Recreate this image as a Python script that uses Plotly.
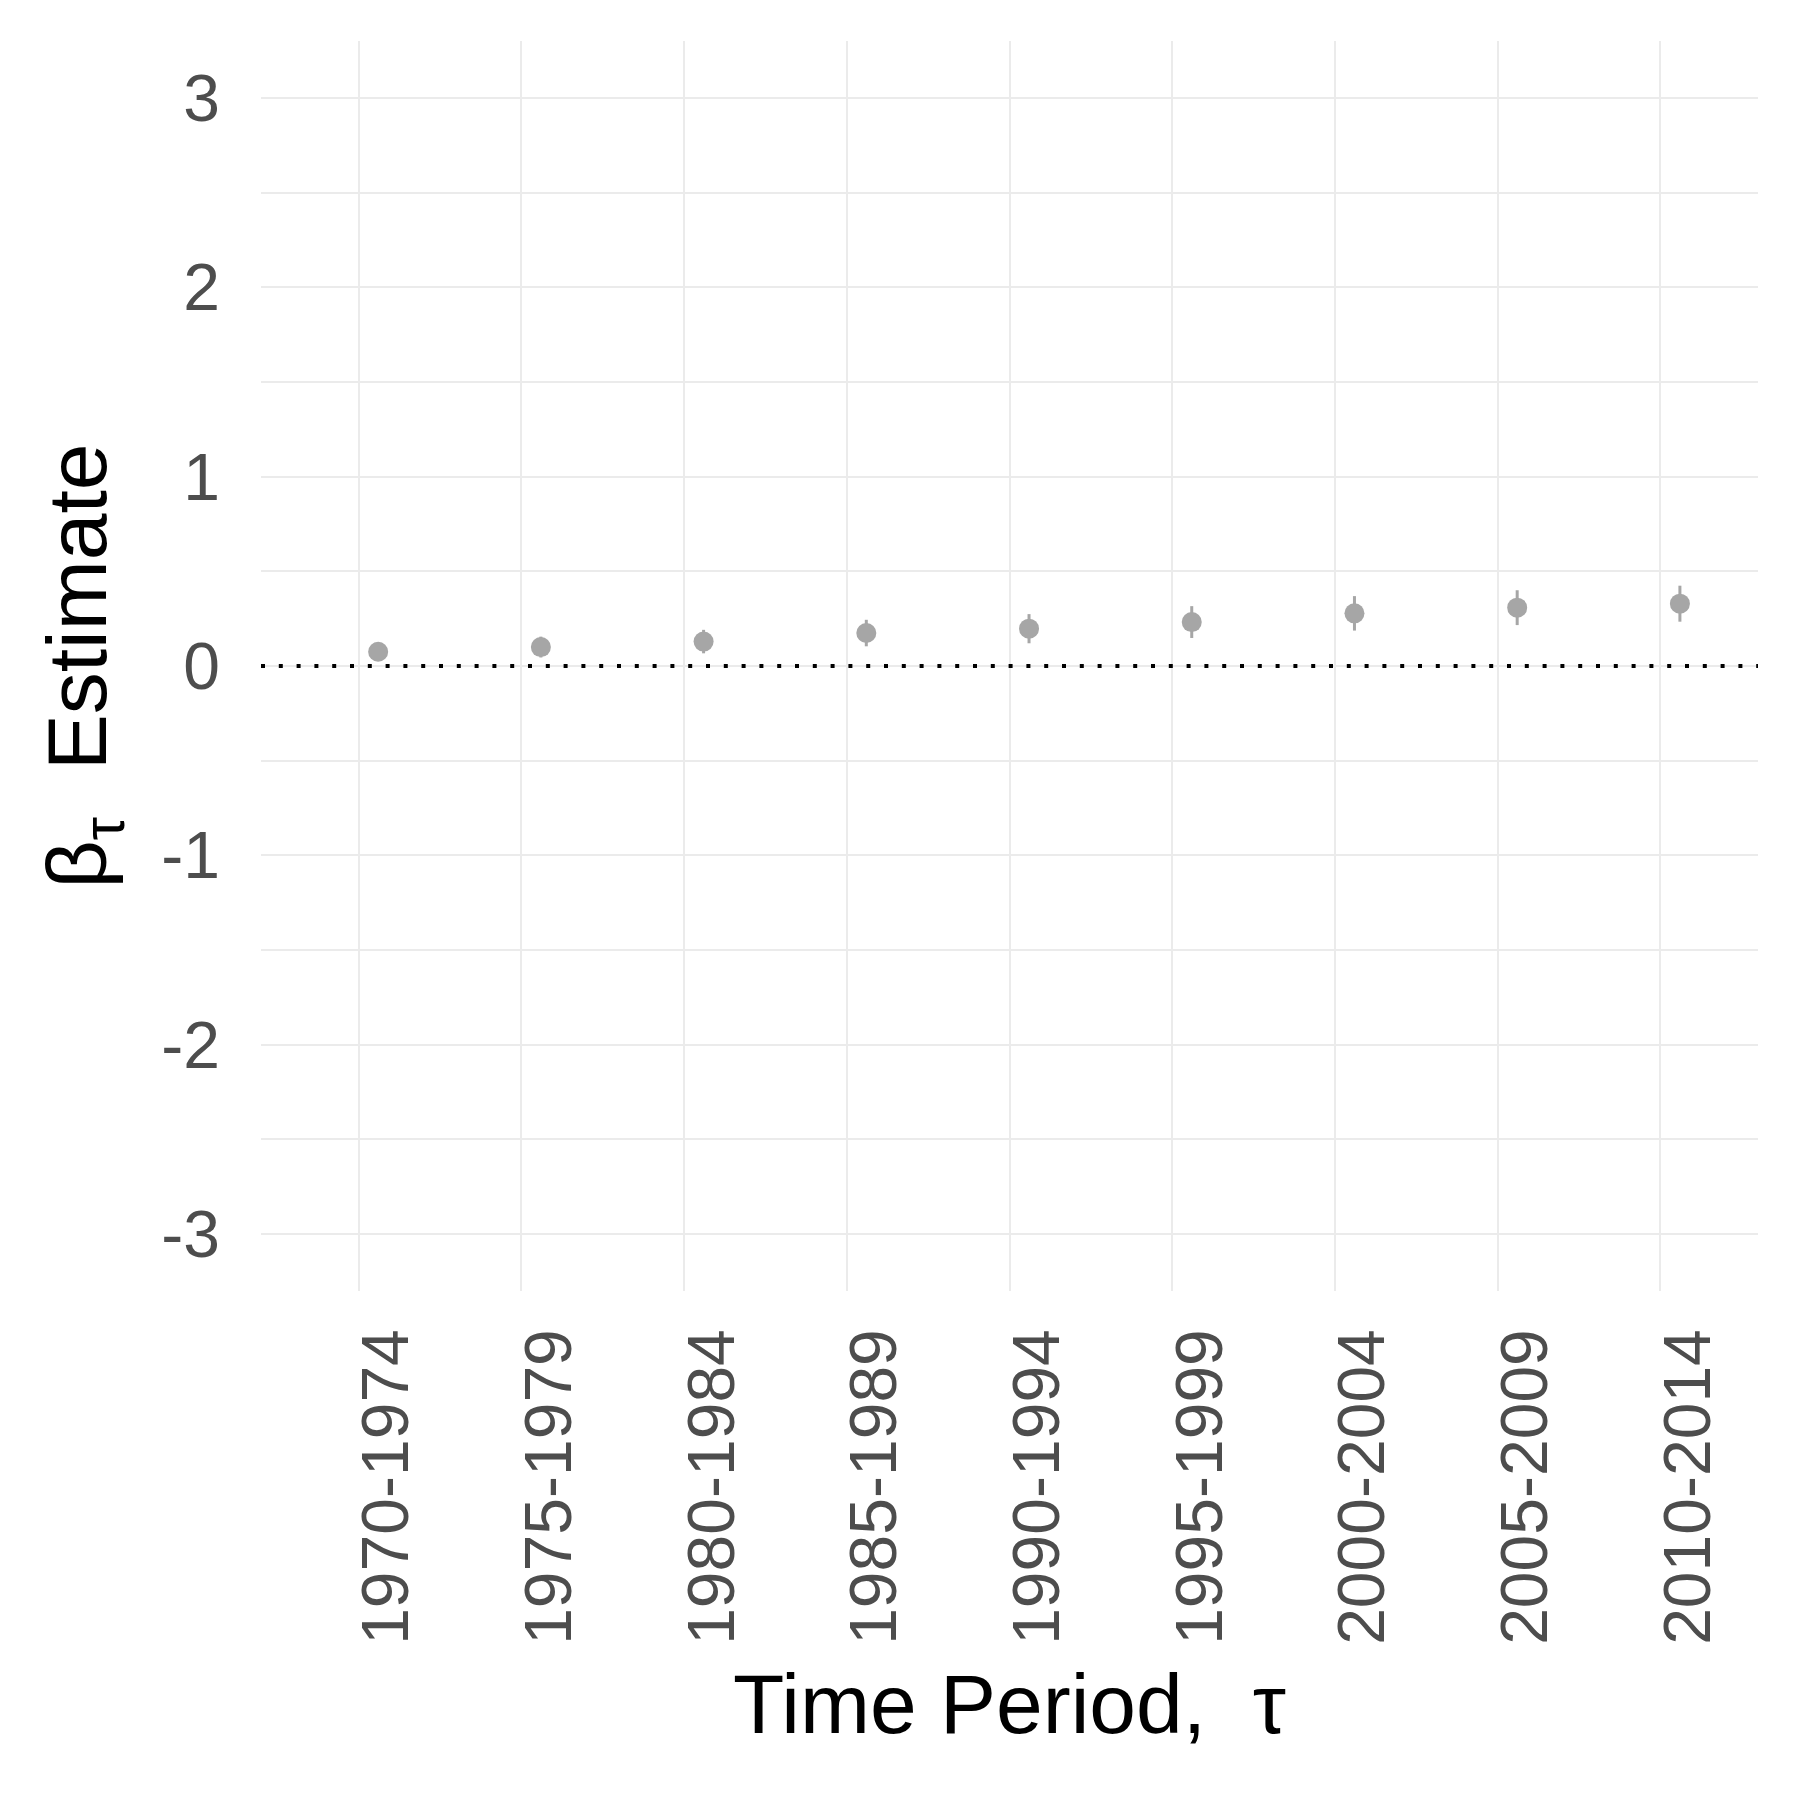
import plotly.graph_objects as go

periods = ["1970-1974", "1975-1979", "1980-1984", "1985-1989", "1990-1994",
           "1995-1999", "2000-2004", "2005-2009", "2010-2014"]
estimates = [0.075, 0.100, 0.129, 0.174, 0.197, 0.232, 0.278, 0.308, 0.329]
errors = [0.040, 0.055, 0.062, 0.070, 0.077, 0.084, 0.091, 0.092, 0.095]

y_ticks = [-3, -2, -1, 0, 1, 2, 3]

FONT = "Liberation Sans, Arial, sans-serif"
GRID = "#EBEBEB"
POINT = "#A6A6A6"

fig = go.Figure()
# empty companion group (dodge partner)
fig.add_trace(go.Scatter(
    x=periods, y=[None] * len(periods), mode="markers",
    offsetgroup="a", showlegend=False, hoverinfo="skip",
))
fig.add_trace(go.Scatter(
    x=periods, y=estimates, mode="markers",
    marker=dict(size=20, color=POINT, line=dict(width=0)),
    error_y=dict(type="data", array=errors, color=POINT, thickness=3, width=0),
    offsetgroup="b", showlegend=False, hoverinfo="skip",
))

fig.add_hline(y=0, line=dict(color="black", width=4, dash="4px,13.8px"), layer="above")

fig.update_layout(
    width=1800, height=1800,
    margin=dict(l=253, r=50, t=33, b=517, autoexpand=False),
    paper_bgcolor="white", plot_bgcolor="white",
    scattermode="group", scattergap=0.52,
    font=dict(family=FONT, color="black"),
    xaxis=dict(
        type="category", categoryorder="array", categoryarray=periods,
        range=[-0.6, 8.6], showgrid=True, gridcolor=GRID, gridwidth=2,
        zeroline=False, showline=False, ticks="",
        tickangle=-90, tickfont=dict(size=66, color="#4D4D4D", family=FONT),
        ticklabelshift=28, ticklabelstandoff=24,
        title=dict(text="Time Period,\u00a0\u00a0τ", font=dict(size=84, color="black", family=FONT),
                   standoff=30),
    ),
    yaxis=dict(
        range=[-3.3, 3.3], tickmode="array", tickvals=y_ticks,
        ticktext=[str(v) for v in y_ticks],
        showgrid=True, gridcolor=GRID, gridwidth=2,
        minor=dict(dtick=0.5, showgrid=True, gridcolor=GRID, gridwidth=1.5, ticks=""),
        zeroline=False, showline=False, ticks="",
        tickfont=dict(size=66, color="#4D4D4D", family=FONT),
        ticklabelstandoff=40,
        title=dict(text="β<sub>τ</sub>\u00a0\u00a0Estimate", font=dict(size=84, color="black", family=FONT),
                   standoff=26),
    ),
)

fig.write_html("out.html")
